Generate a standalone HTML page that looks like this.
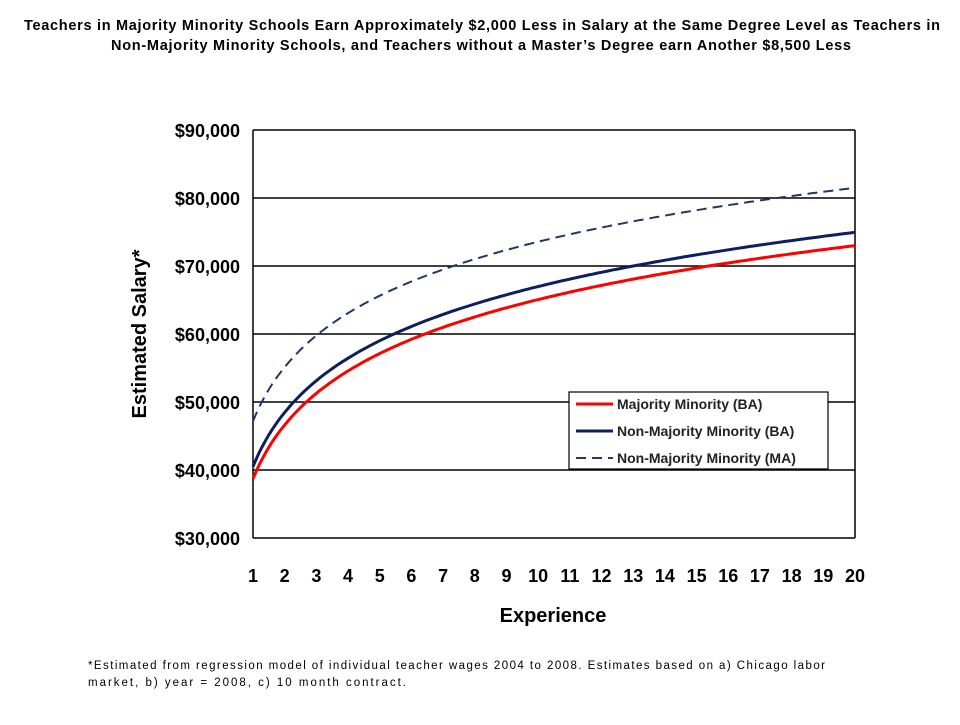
<!DOCTYPE html>
<html><head><style>
body{margin:0;background:#fff;width:960px;height:720px;overflow:hidden;font-family:"Liberation Sans",Arial,sans-serif}
</style></head><body>
<svg id="s" width="960" height="720" xmlns="http://www.w3.org/2000/svg" font-family="Liberation Sans, Arial, sans-serif">
<text x="24" y="30" textLength="916" lengthAdjust="spacing" font-size="14.5" font-weight="bold">Teachers in Majority Minority Schools Earn Approximately $2,000 Less in Salary at the Same Degree Level as Teachers in</text>
<text x="111" y="50" textLength="740" lengthAdjust="spacing" font-size="14.5" font-weight="bold">Non-Majority Minority Schools, and Teachers without a Master’s Degree earn Another $8,500 Less</text>
<g stroke="#000" stroke-width="1.5">
<line x1="253" y1="130" x2="855" y2="130"/><line x1="253" y1="198" x2="855" y2="198"/>
<line x1="253" y1="266" x2="855" y2="266"/><line x1="253" y1="334" x2="855" y2="334"/>
<line x1="253" y1="402" x2="855" y2="402"/><line x1="253" y1="470" x2="855" y2="470"/>
<line x1="253" y1="538" x2="855" y2="538"/>
<line x1="253" y1="130" x2="253" y2="538"/><line x1="855" y1="130" x2="855" y2="538"/>
</g>
<g font-size="18" font-weight="bold" text-anchor="end">
<text x="240" y="137">$90,000</text><text x="240" y="205">$80,000</text><text x="240" y="273">$70,000</text>
<text x="240" y="341">$60,000</text><text x="240" y="409">$50,000</text><text x="240" y="477">$40,000</text>
<text x="240" y="545">$30,000</text>
</g>
<g id="xt" font-size="18" font-weight="bold" text-anchor="middle"></g>
<text x="553" y="622" text-anchor="middle" font-size="20" font-weight="bold">Experience</text>
<text transform="translate(146,334) rotate(-90)" text-anchor="middle" font-size="20" font-weight="bold">Estimated Salary*</text>
<path id="ma" fill="none" stroke="#1f3864" stroke-width="2" stroke-dasharray="10,6"/>
<path id="nb" fill="none" stroke="#0d1f5c" stroke-width="3"/>
<path id="mb" fill="none" stroke="#ff0000" stroke-width="3"/>
<rect x="569" y="392" width="259" height="77" fill="#fff" stroke="#000" stroke-width="1.2"/>
<line x1="576" y1="404" x2="613" y2="404" stroke="#ff0000" stroke-width="3"/>
<line x1="576" y1="431" x2="613" y2="431" stroke="#0d1f5c" stroke-width="3"/>
<line x1="576" y1="458" x2="613" y2="458" stroke="#1f3864" stroke-width="2" stroke-dasharray="10,6"/>
<g font-size="14" font-weight="bold" fill="#222">
<text x="617" y="409">Majority Minority (BA)</text>
<text x="617" y="436">Non-Majority Minority (BA)</text>
<text x="617" y="463">Non-Majority Minority (MA)</text>
</g>
<text x="88" y="669" font-size="11.5" textLength="737" lengthAdjust="spacing">*Estimated  from regression model of individual  teacher wages 2004 to 2008.  Estimates based on a) Chicago labor</text>
<text x="88" y="686" font-size="11.5" textLength="318" lengthAdjust="spacing">market,  b) year  = 2008, c) 10 month  contract.</text>
</svg>
<script>
var xt=document.getElementById('xt'),ns='http://www.w3.org/2000/svg';
function X(i){return 253+(i-1)*602/19}
function Y(v){return 538-(v-30)*6.8}
for(var i=1;i<=20;i++){var t=document.createElementNS(ns,'text');t.setAttribute('x',X(i));t.setAttribute('y',582);t.textContent=i;xt.appendChild(t);}
function p(id,a,b){var d='';for(var x=1;x<=20.001;x+=0.1){d+=(d?'L':'M')+X(x).toFixed(1)+','+Y(a+b*Math.log(x)).toFixed(1);}document.getElementById(id).setAttribute('d',d);}
p('mb',38.7,11.45);p('nb',40.5,11.5);p('ma',47.2,11.45);
</script>
</body></html>
